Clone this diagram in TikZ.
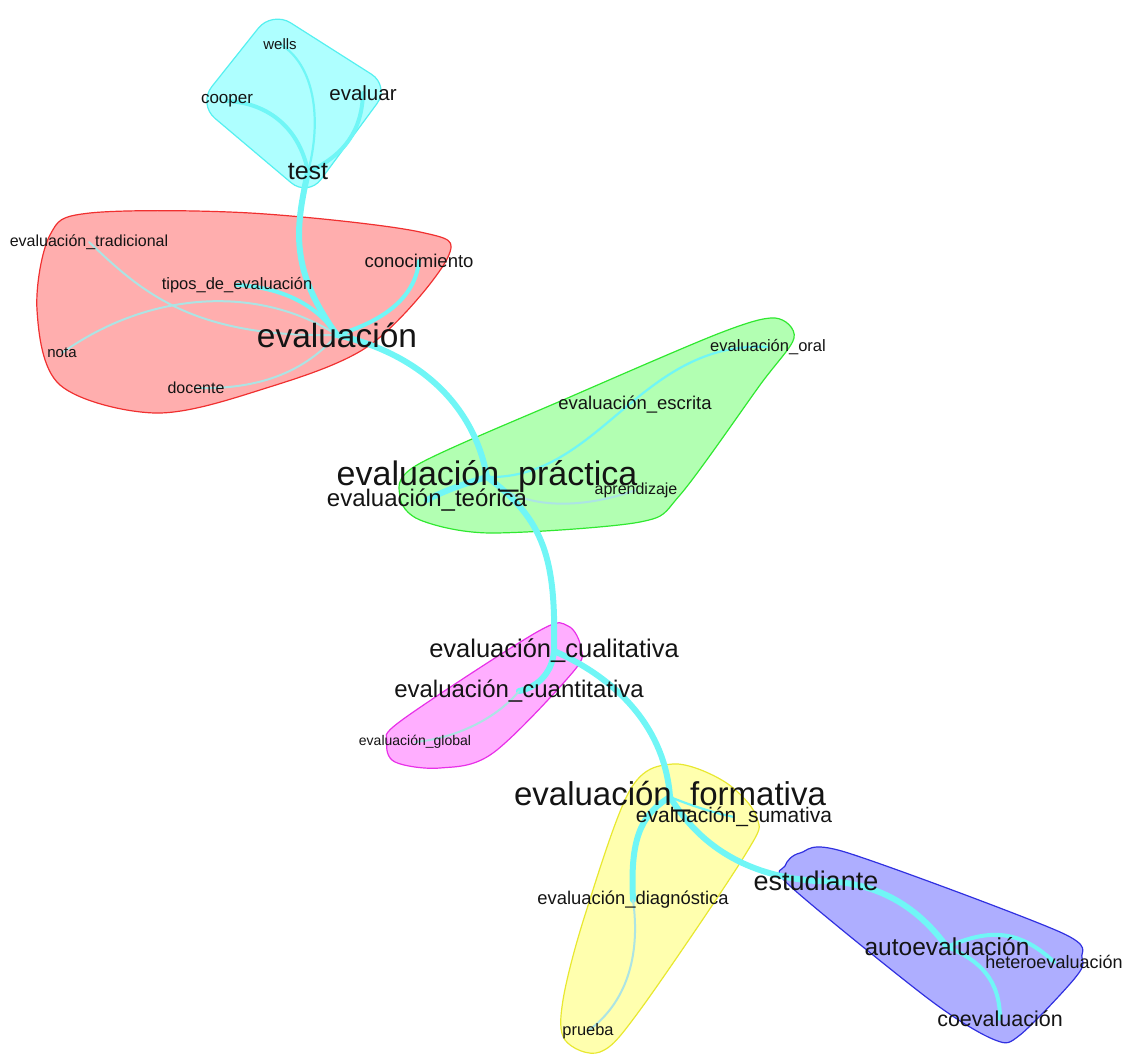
\documentclass[tikz,border=0pt]{standalone}
\usepackage{fontspec}
\setmainfont{Liberation Sans}
\usetikzlibrary{backgrounds}
\definecolor{cyfill}{HTML}{AEFFFF}\definecolor{cyline}{HTML}{55F0F0}
\definecolor{rdfill}{HTML}{FFAEAE}\definecolor{rdline}{HTML}{F03030}
\definecolor{grfill}{HTML}{B2FFB2}\definecolor{grline}{HTML}{30E830}
\definecolor{mgfill}{HTML}{FFAEFF}\definecolor{mgline}{HTML}{E830E8}
\definecolor{yefill}{HTML}{FFFFAE}\definecolor{yeline}{HTML}{E8E830}
\definecolor{blfill}{HTML}{AEAEFF}\definecolor{blline}{HTML}{3030E0}
\definecolor{edgec}{HTML}{70F6F6}\definecolor{edgel}{HTML}{ACE4E4}
\definecolor{txt}{HTML}{141414}
\tikzset{
  lbl/.style={inner sep=0pt, text=txt},
  fs/.style={font=\fontsize{#1}{#1}\selectfont},
  hull/.style={line width=1.2pt},
  ethick/.style={draw=edgec, line width=6pt, line cap=round},
  emed/.style={draw=edgec, line width=4pt, line cap=round},
  ethin/.style={draw=edgec, line width=2.2pt, line cap=round},
  elight/.style={draw=edgel, line width=2pt, line cap=round}
}
\begin{document}
\begin{tikzpicture}[x=1pt,y=-1pt]
\useasboundingbox (0,0) rectangle (1124,1056);
% nodes
\node[lbl,fs=15] (wells) at (280,44) {wells};
\node[lbl,fs=17] (cooper) at (227,101) {cooper};
\node[lbl,fs=20.5] (evaluar) at (363,93) {evaluar};
\node[lbl,fs=25] (test) at (308,172) {test};
\node[lbl,fs=16] (trad) at (89,242) {evaluación\_tradicional};
\node[lbl,fs=18.5] (conoc) at (419,261) {conocimiento};
\node[lbl,fs=16.5] (tipos) at (237,285) {tipos\_de\_evaluación};
\node[lbl,fs=33.5] (ev) at (337,335) {evaluación};
\node[lbl,fs=15] (nota) at (62,353) {nota};
\node[lbl,fs=16] (docente) at (196,388) {docente};
\node[lbl,fs=16.5] (oral) at (768,347) {evaluación\_oral};
\node[lbl,fs=18.5] (escrita) at (635,405) {evaluación\_escrita};
\node[lbl,fs=16] (aprend) at (636,490) {aprendizaje};
\node[lbl,fs=34] (practica) at (487,477) {evaluación\_práctica};
\node[lbl,fs=24] (teorica) at (427,500) {evaluación\_teórica};
\node[lbl,fs=25.5] (cualit) at (554,651) {evaluación\_cualitativa};
\node[lbl,fs=24] (cuantit) at (519,691) {evaluación\_cuantitativa};
\node[lbl,fs=14] (global) at (415,742) {evaluación\_global};
\node[lbl,fs=33] (format) at (670,797) {evaluación\_formativa};
\node[lbl,fs=21] (sumat) at (734,817) {evaluación\_sumativa};
\node[lbl,fs=27] (estud) at (816,881) {estudiante};
\node[lbl,fs=18.4] (diagn) at (633,900) {evaluación\_diagnóstica};
\node[lbl,fs=24.5] (autoev) at (947,947) {autoevaluación};
\node[lbl,fs=18] (heteroev) at (1054,962) {heteroevaluación};
\node[lbl,fs=21.5] (coev) at (1000,1019) {coevaluación};
\node[lbl,fs=16.4] (prueba) at (588,1031) {prueba};
% hulls
\begin{scope}[on background layer]
\draw[hull, draw=cyline, fill=cyfill, rounded corners=22pt] (272,11) -- (390,86) -- (308,197) -- (198,104) -- cycle;
\draw[hull, draw=rdline, fill=rdfill] plot[smooth cycle, tension=0.55] coordinates {(90,213) (250,213) (420,232) (448,257) (370,345) (260,390) (155,413) (60,385) (37,310) (50,235)};
\draw[hull, draw=grline, fill=grfill] plot[smooth cycle, tension=0.5] coordinates {(417,465) (570,397) (720,333) (775,318) (794,338) (760,385) (680,495) (640,522) (490,533) (420,520) (400,497)};
\draw[hull, draw=mgline, fill=mgfill] plot[smooth cycle, tension=0.55] coordinates {(537,632) (568,626) (581,648) (573,672) (493,753) (440,768) (395,762) (387,742) (402,720)};
\draw[hull, draw=yeline, fill=yefill] plot[smooth cycle, tension=0.55] coordinates {(673,764) (725,782) (757,818) (745,855) (640,1010) (600,1052) (565,1040) (563,1000) (585,915) (630,790)};
\draw[hull, draw=blline, fill=blfill] plot[smooth cycle, tension=0.5] coordinates {(800,853) (845,852) (1060,932) (1082,958) (1075,978) (1020,1035) (995,1040) (930,1000) (790,886) (785,866)};
% edges
\draw[ethin] (wells.center) .. controls (315,65) and (322,120) .. (test.center);
\draw[emed] (cooper.center) .. controls (270,103) and (300,130) .. (test.center);
\draw[emed] (evaluar.center) .. controls (362,130) and (345,155) .. (test.center);
\draw[ethick] (test.center) .. controls (295,230) and (290,270) .. (ev.center);
\draw[elight] (trad.center) .. controls (140,290) and (190,338) .. (ev.center);
\draw[elight] (nota.center) .. controls (150,290) and (260,285) .. (ev.center);
\draw[emed] (tipos.center) .. controls (290,288) and (320,310) .. (ev.center);
\draw[emed] (conoc.center) .. controls (415,300) and (380,322) .. (ev.center);
\draw[elight] (docente.center) .. controls (270,390) and (310,365) .. (ev.center);
\draw[ethick] (ev.center) .. controls (425,355) and (475,410) .. (practica.center);
\draw[ethin] (practica.center) .. controls (600,480) and (640,340) .. (oral.center);
\draw[ethick] (practica.center) .. controls (470,482) and (445,490) .. (teorica.center);
\draw[elight] (practica.center) .. controls (520,510) and (580,510) .. (aprend.center);
\draw[ethick] (practica.center) .. controls (545,520) and (556,560) .. (cualit.center);
\draw[ethick] (cualit.center) .. controls (552,675) and (535,688) .. (cuantit.center);
\draw[elight] (cuantit.center) .. controls (500,715) and (460,738) .. (global.center);
\draw[ethick] (cualit.center) .. controls (620,680) and (665,730) .. (format.center);
\draw[ethick] (format.center) .. controls (690,830) and (730,875) .. (estud.center);
\draw[ethick] (format.center) .. controls (640,815) and (630,840) .. (diagn.center);
\draw[ethin] (format.center) .. controls (690,805) and (710,812) .. (sumat.center);
\draw[elight] (diagn.center) .. controls (640,950) and (630,1000) .. (prueba.center);
\draw[ethick] (estud.center) .. controls (880,880) and (920,910) .. (autoev.center);
\draw[emed] (autoev.center) .. controls (990,928) and (1020,930) .. (heteroev.center);
\draw[emed] (autoev.center) .. controls (980,960) and (1000,980) .. (coev.center);
\end{scope}
\end{tikzpicture}
\end{document}
